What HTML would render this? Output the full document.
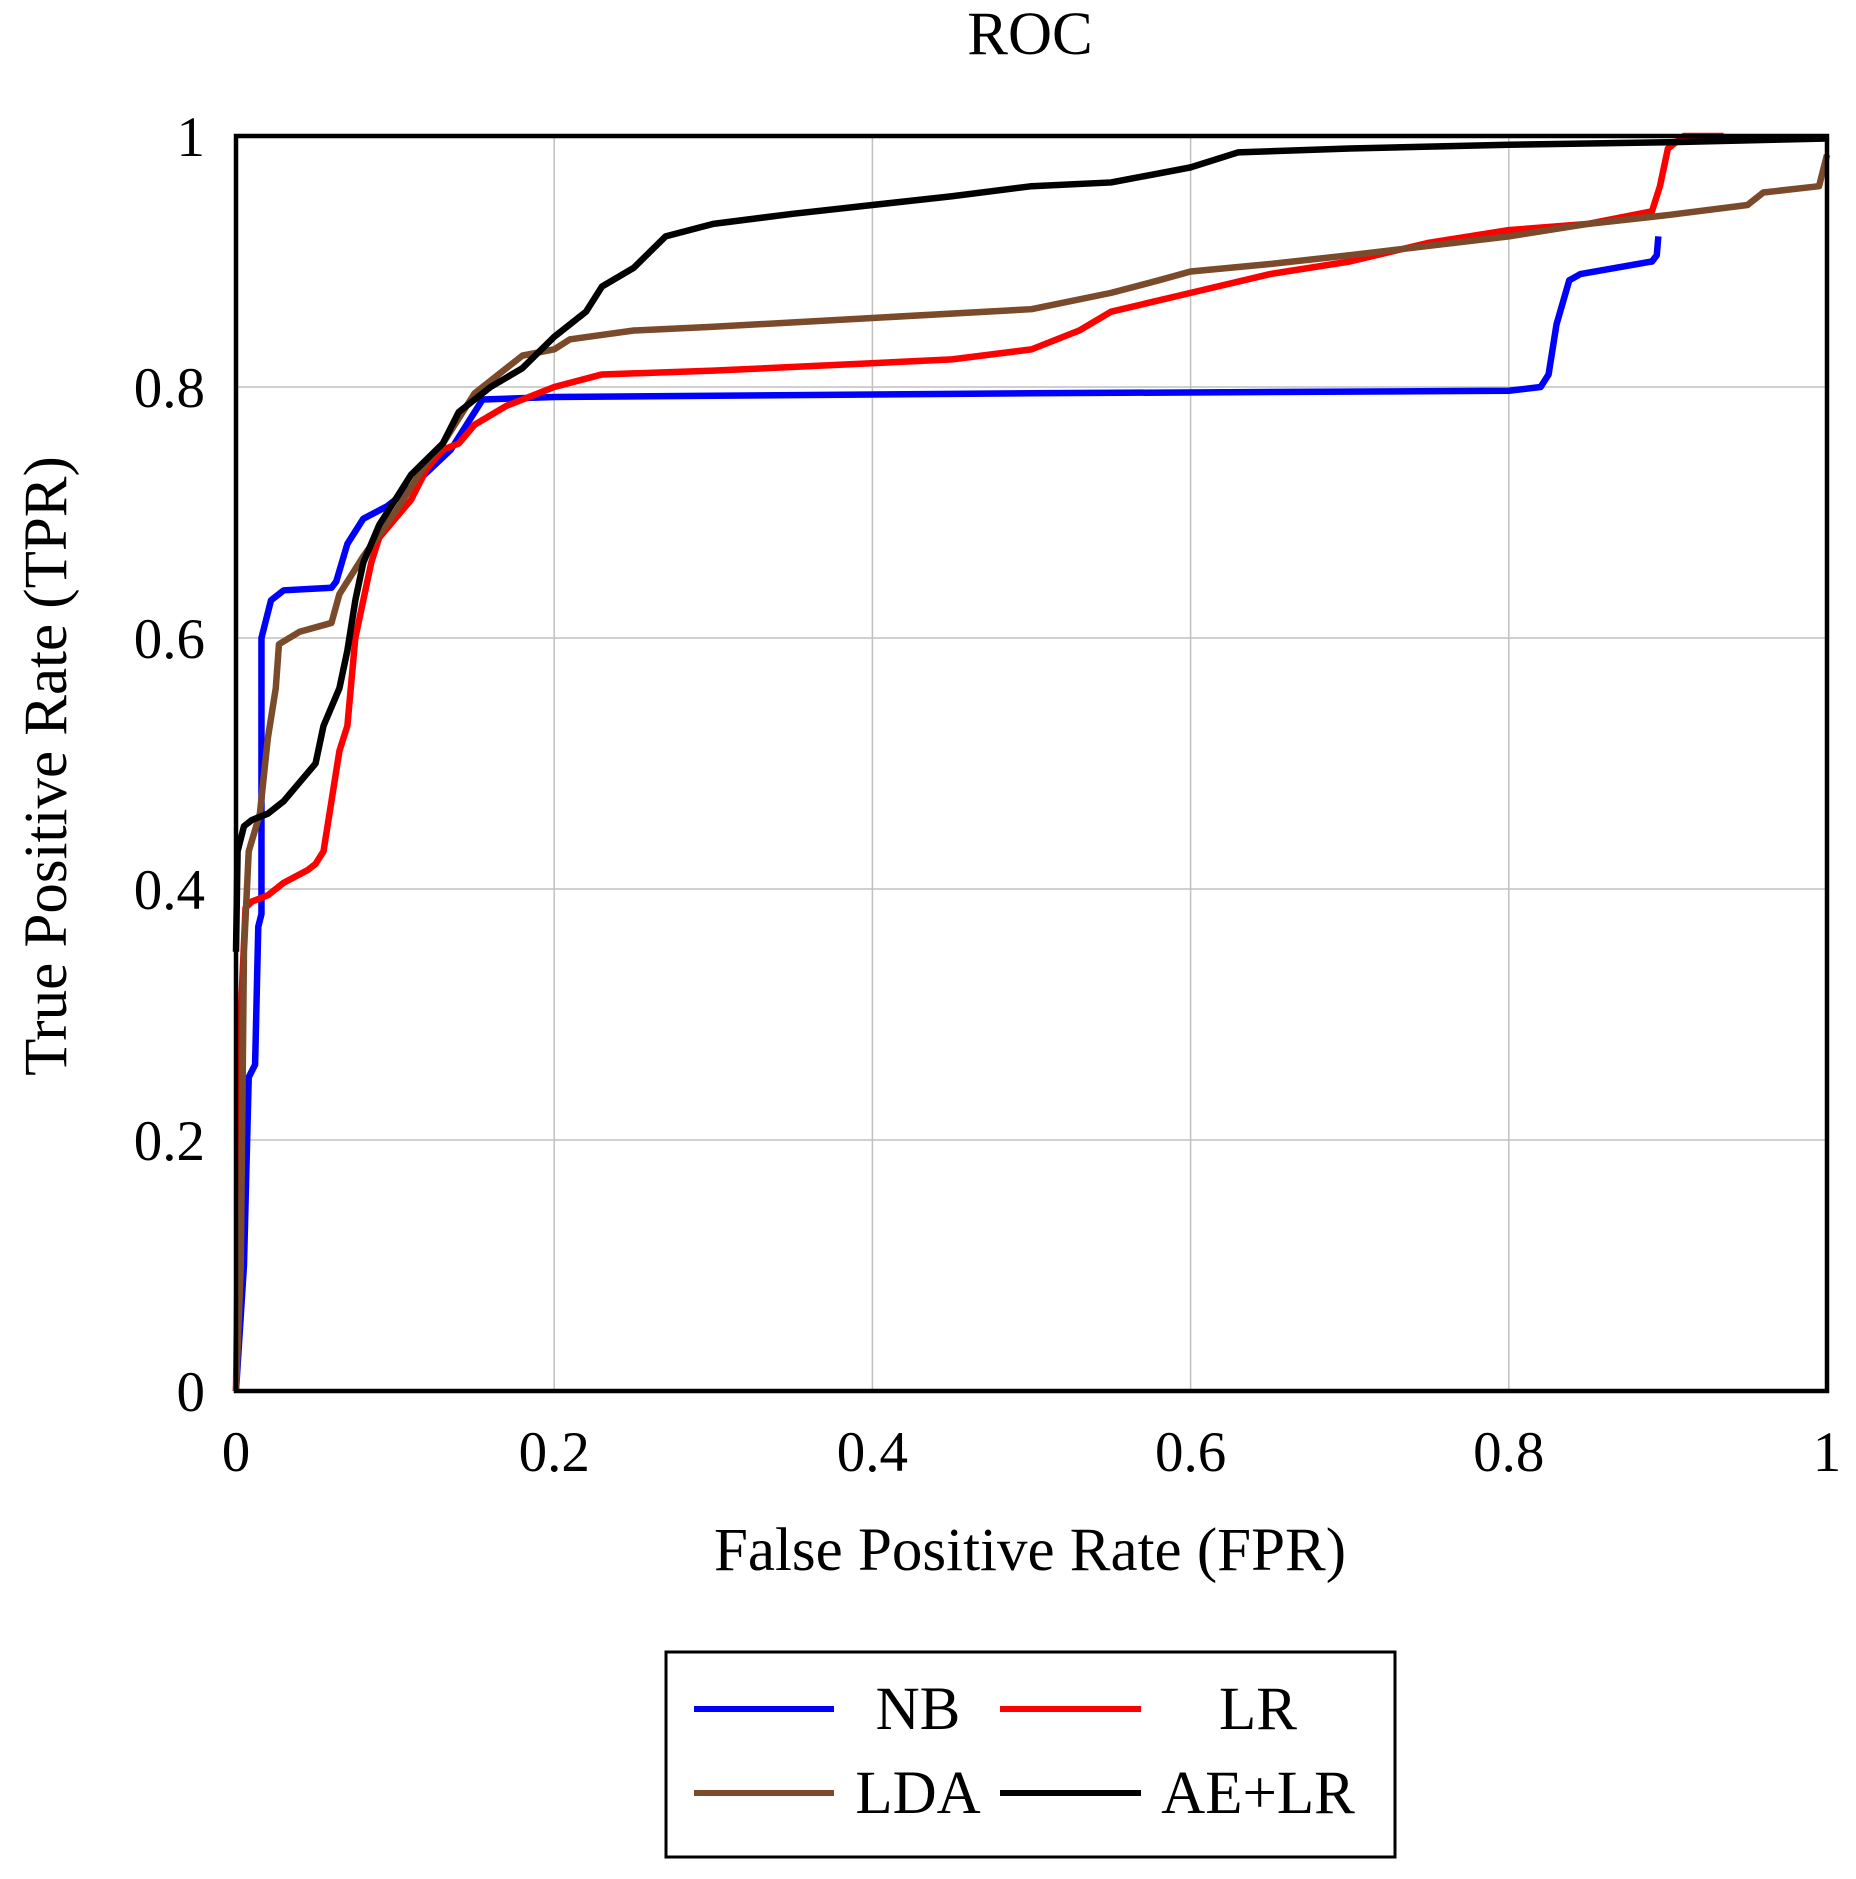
<!DOCTYPE html>
<html><head><meta charset="utf-8"><style>
html,body{margin:0;padding:0;background:#fff;}
svg{display:block;font-family:"Liberation Serif",serif;}
</style></head><body>
<svg id="chart" width="1856" height="1879" viewBox="0 0 1856 1879">
<text x="1030" y="54" text-anchor="middle" font-size="61">ROC</text>
<g id="grid"></g>
<g id="series"></g>
<rect x="236" y="136" width="1591" height="1255" fill="none" stroke="#000" stroke-width="4.5"/>
<g id="ticks"></g>
<text x="1030" y="1570" text-anchor="middle" font-size="61">False Positive Rate (FPR)</text>
<text transform="translate(66,766) rotate(-90)" text-anchor="middle" font-size="61">True Positive Rate (TPR)</text>
<g>
<rect x="666" y="1652" width="729" height="205" fill="#fff" stroke="#000" stroke-width="3"/>
<g><line x1="694" y1="1709" x2="834" y2="1709" stroke="#0000ff" stroke-width="6"/><text x="918" y="1729" text-anchor="middle" font-size="61">NB</text></g>
<g><line x1="1000" y1="1709" x2="1141" y2="1709" stroke="#ff0000" stroke-width="6"/><text x="1258" y="1729" text-anchor="middle" font-size="61">LR</text></g>
<g><line x1="694" y1="1793" x2="834" y2="1793" stroke="#7a4a2a" stroke-width="6"/><text x="918" y="1813" text-anchor="middle" font-size="61">LDA</text></g>
<g><line x1="1000" y1="1793" x2="1141" y2="1793" stroke="#000" stroke-width="6"/><text x="1258" y="1813" text-anchor="middle" font-size="61">AE+LR</text></g>
</g>
</svg>
<script>
const xTicks=[0,0.2,0.4,0.6,0.8,1];
const yTicks=[0,0.2,0.4,0.6,0.8,1];
const tickLabels=["0","0.2","0.4","0.6","0.8","1"];
const nbFpr=[0,0.005,0.008,0.012,0.014,0.016,0.016,0.022,0.03,0.06,0.063,0.07,0.08,0.095,0.11,0.135,0.155,0.2,0.5,0.8,0.82,0.825,0.83,0.838,0.845,0.89,0.893,0.894];
const nbTpr=[0,0.1,0.25,0.26,0.37,0.38,0.6,0.63,0.638,0.64,0.645,0.675,0.695,0.705,0.72,0.75,0.79,0.792,0.795,0.797,0.8,0.81,0.85,0.885,0.89,0.9,0.905,0.92];
const lrFpr=[0,0.003,0.006,0.01,0.02,0.03,0.045,0.05,0.055,0.06,0.065,0.07,0.075,0.08,0.085,0.09,0.1,0.11,0.12,0.13,0.14,0.15,0.17,0.2,0.23,0.3,0.45,0.5,0.53,0.55,0.6,0.65,0.7,0.75,0.8,0.85,0.89,0.895,0.9,0.91,0.935];
const lrTpr=[0,0.3,0.385,0.39,0.395,0.405,0.415,0.42,0.43,0.47,0.51,0.53,0.6,0.63,0.66,0.68,0.695,0.71,0.735,0.75,0.755,0.77,0.785,0.8,0.81,0.813,0.822,0.83,0.845,0.86,0.875,0.89,0.9,0.915,0.925,0.93,0.94,0.96,0.99,1.0,1.0];
const ldaFpr=[0,0.003,0.005,0.008,0.015,0.02,0.025,0.027,0.04,0.06,0.065,0.08,0.1,0.12,0.13,0.15,0.17,0.18,0.2,0.21,0.25,0.3,0.4,0.5,0.55,0.58,0.6,0.65,0.7,0.8,0.85,0.9,0.95,0.96,0.995,1.0];
const ldaTpr=[0,0.1,0.35,0.43,0.46,0.52,0.56,0.595,0.605,0.612,0.635,0.665,0.7,0.74,0.755,0.795,0.815,0.825,0.83,0.838,0.845,0.848,0.855,0.862,0.875,0.885,0.892,0.898,0.905,0.92,0.93,0.937,0.945,0.955,0.96,0.985];
const aeFpr=[0,0.001,0.005,0.01,0.02,0.03,0.04,0.05,0.055,0.065,0.07,0.075,0.08,0.09,0.1,0.11,0.13,0.14,0.16,0.18,0.2,0.22,0.23,0.25,0.27,0.3,0.35,0.4,0.45,0.5,0.55,0.6,0.63,0.7,0.8,0.9,1.0];
const aeTpr=[0.35,0.43,0.45,0.455,0.46,0.47,0.485,0.5,0.53,0.56,0.59,0.63,0.66,0.69,0.71,0.73,0.755,0.78,0.8,0.815,0.84,0.86,0.88,0.895,0.92,0.93,0.938,0.945,0.952,0.96,0.963,0.975,0.987,0.99,0.993,0.995,0.998];
const X0=236,X1=1827,Y0=1391,Y1=136;
function sx(v){return X0+v*(X1-X0);}
function sy(v){return Y0-v*(Y0-Y1);}
const NS="http://www.w3.org/2000/svg";
const grid=document.getElementById('grid'),ticks=document.getElementById('ticks'),series=document.getElementById('series');
xTicks.forEach((t,i)=>{
 const l=document.createElementNS(NS,'line');
 l.setAttribute('x1',sx(t));l.setAttribute('x2',sx(t));l.setAttribute('y1',Y1);l.setAttribute('y2',Y0);
 l.setAttribute('stroke','#c0c0c0');l.setAttribute('stroke-width','1.5');
 
 
 grid.appendChild(l);
 const tx=document.createElementNS(NS,'text');
 tx.setAttribute('x',sx(t));tx.setAttribute('y',Y0+80);tx.setAttribute('text-anchor','middle');tx.setAttribute('font-size','57');
 tx.textContent=tickLabels[i];
 
 
 ticks.appendChild(tx);
});
yTicks.forEach((t,i)=>{
 const l=document.createElementNS(NS,'line');
 l.setAttribute('y1',sy(t));l.setAttribute('y2',sy(t));l.setAttribute('x1',X0);l.setAttribute('x2',X1);
 l.setAttribute('stroke','#c0c0c0');l.setAttribute('stroke-width','1.5');
 
 
 grid.appendChild(l);
 const tx=document.createElementNS(NS,'text');
 tx.setAttribute('x',X0-31);tx.setAttribute('y',sy(t)+20);tx.setAttribute('text-anchor','end');tx.setAttribute('font-size','57');
 tx.textContent=tickLabels[i];
 
 
 ticks.appendChild(tx);
});
function draw(xs,ys,color,name){
 const p=document.createElementNS(NS,'polyline');
 p.setAttribute('points',xs.map((x,i)=>sx(x)+','+sy(ys[i])).join(' '));
 p.setAttribute('fill','none');p.setAttribute('stroke',color);p.setAttribute('stroke-width','6.5');p.setAttribute('stroke-linejoin','round');
 
 
 series.appendChild(p);
}
draw(nbFpr,nbTpr,'#0000ff','nb-curve');
draw(lrFpr,lrTpr,'#ff0000','lr-curve');
draw(ldaFpr,ldaTpr,'#7a4a2a','lda-curve');
draw(aeFpr,aeTpr,'#000000','ae-lr-curve');
</script>
</body></html>
